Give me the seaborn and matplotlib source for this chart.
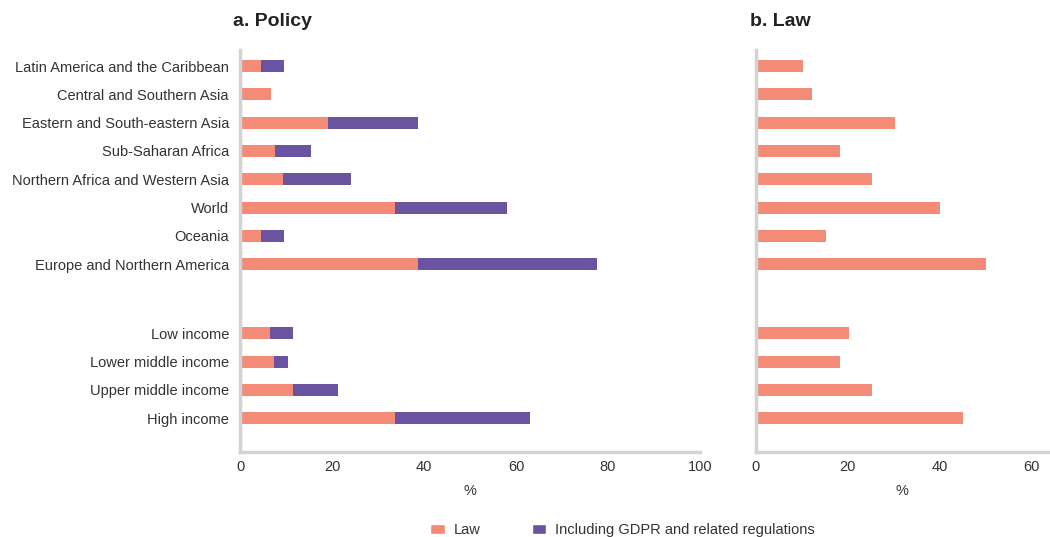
import matplotlib
matplotlib.use("Agg")
import matplotlib.pyplot as plt
import seaborn as sns
import pandas as pd
from matplotlib.patches import Patch

sns.set_theme(style="white")
plt.rcParams["font.family"] = ["Liberation Sans", "DejaVu Sans"]

categories = [
    "Latin America and the Caribbean",
    "Central and Southern Asia",
    "Eastern and South-eastern Asia",
    "Sub-Saharan Africa",
    "Northern Africa and Western Asia",
    "World",
    "Oceania",
    "Europe and Northern America",
    "Low income",
    "Lower middle income",
    "Upper middle income",
    "High income",
]
# row positions: regional block, a gap, then income groups
positions = [0, 1, 2, 3, 4, 5, 6, 7, 9.44, 10.44, 11.44, 12.44]

policy_law = [4.6, 6.7, 19.1, 7.6, 9.3, 33.7, 4.6, 38.7, 6.5, 7.4, 11.5, 33.7]
policy_incl_gdpr = [9.6, 6.7, 38.7, 15.4, 24.1, 58.0, 9.6, 77.6, 11.5, 10.4, 21.3, 63.0]
law_share = [10.2, 12.2, 30.2, 18.3, 25.2, 40.0, 15.2, 50.0, 20.2, 18.3, 25.2, 45.0]

law_color = "#F38B76"
gdpr_color = "#6A53A0"
spine_color = "#D3D3D3"
text_color = "#333333"

df = pd.DataFrame({
    "category": categories,
    "pos": positions,
    "law": policy_law,
    "incl_gdpr": policy_incl_gdpr,
    "law_b": law_share,
})

fig = plt.figure(figsize=(10.5, 5.37), dpi=100)
ax1 = fig.add_axes([0.2286, 0.158, 0.438, 0.749])
ax2 = fig.add_axes([0.720, 0.158, 0.278, 0.749])

bar_w = 0.42
bar_kw = dict(orient="y", native_scale=True, saturation=1, width=bar_w,
              linewidth=0, edgecolor="none")
sns.barplot(data=df, x="incl_gdpr", y="pos", color=gdpr_color, ax=ax1, **bar_kw)
sns.barplot(data=df, x="law", y="pos", color=law_color, ax=ax1, **bar_kw)
sns.barplot(data=df, x="law_b", y="pos", color=law_color, ax=ax2, **bar_kw)

for ax, xmax, ticks in [(ax1, 100, [0, 20, 40, 60, 80, 100]),
                        (ax2, 63.5, [0, 20, 40, 60])]:
    ax.set_xlim(0, xmax)
    ax.set_ylim(13.64, -0.57)
    ax.set_xticks(ticks)
    ax.set_xlabel("%", fontsize=10.5, color=text_color, labelpad=7)
    ax.set_ylabel("")
    for side in ["top", "right"]:
        ax.spines[side].set_visible(False)
    for side in ["left", "bottom"]:
        ax.spines[side].set_color(spine_color)
        ax.spines[side].set_linewidth(2.5)
    ax.tick_params(axis="both", length=0, labelsize=10.5, colors=text_color)
    ax.tick_params(axis="x", pad=6)
    ax.grid(False)

ax1.set_yticks(positions)
ax1.set_yticklabels(categories)
ax1.tick_params(axis="y", pad=8)
ax2.set_yticks(positions)
ax2.set_yticklabels([])

fig.text(0.222, 0.96, "a. Policy", fontsize=14, fontweight="bold",
         color="#222222", ha="left", va="center")
fig.text(0.714, 0.96, "b. Law", fontsize=14, fontweight="bold",
         color="#222222", ha="left", va="center")

handles = [Patch(facecolor=law_color, label="Law"),
           Patch(facecolor=gdpr_color, label="Including GDPR and related regulations")]
fig.legend(handles=handles, loc="center", bbox_to_anchor=(0.593, 0.013),
           ncol=2, frameon=False, fontsize=10.5, handlelength=1.0,
           handleheight=0.7, columnspacing=3.5, handletextpad=0.6,
           labelcolor=text_color)

fig.savefig("out.png", dpi=100)
